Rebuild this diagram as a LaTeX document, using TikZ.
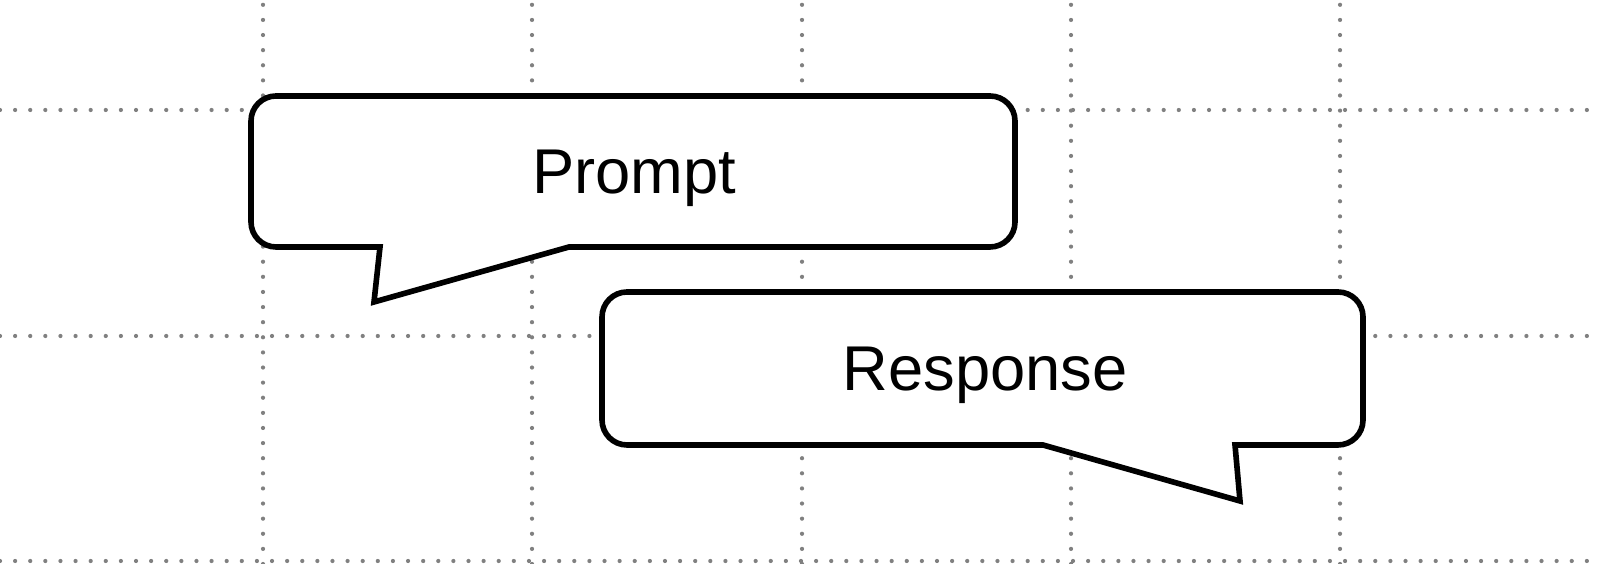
\documentclass[tikz,border=0pt]{standalone}
\usepackage{fontspec}
\setmainfont{Liberation Sans}
\usepackage{tikz}

\begin{document}
\begin{tikzpicture}[every node/.style={font=\fontsize{18}{22}\selectfont},
    gridline/.style={gray, line width=1.2pt, line cap=round, dash pattern=on 0pt off 4.3pt},
    bubble/.style={draw=black, fill=white, line width=1.6pt, line join=miter}]
                \useasboundingbox (0,0) rectangle (16,5.64);

                % dotted grid
                \foreach \x in {2.63,5.32,8.02,10.71,13.40}
                    \draw[gridline] (\x,0) -- (\x,5.64);
                \foreach \y in {4.54,2.28,0.03}
                    \draw[gridline] (0,\y) -- (16,\y);

                % prompt bubble
                \coordinate (pbl) at (2.51,3.17);
                \coordinate (ptr) at (10.15,4.68);
                \coordinate (pa) at (3.80,3.17);
                \coordinate (ptip) at (3.74,2.62);
                \coordinate (pb) at (5.69,3.17);
                \draw[bubble] (pa) -- (ptip) -- (pb) [rounded corners=0.25cm]
                    -- (pbl -| ptr) -- (ptr) -- (ptr -| pbl) -- (pbl) [sharp corners] -- (pa) -- cycle;
                \node[anchor=base] (prompt) at (6.34,3.70) {Prompt};

                % response bubble
                \coordinate (rbl) at (6.02,1.19);
                \coordinate (rtr) at (13.63,2.72);
                \coordinate (ra) at (10.43,1.19);
                \coordinate (rtip) at (12.40,0.63);
                \coordinate (rb) at (12.35,1.19);
                \draw[bubble] (ra) -- (rtip) -- (rb) [rounded corners=0.25cm]
                    -- (rbl -| rtr) -- (rtr) -- (rtr -| rbl) -- (rbl) [sharp corners] -- (ra) -- cycle;
                \node[anchor=base] (response) at (9.85,1.73) {Response};
            \end{tikzpicture}
\end{document}
